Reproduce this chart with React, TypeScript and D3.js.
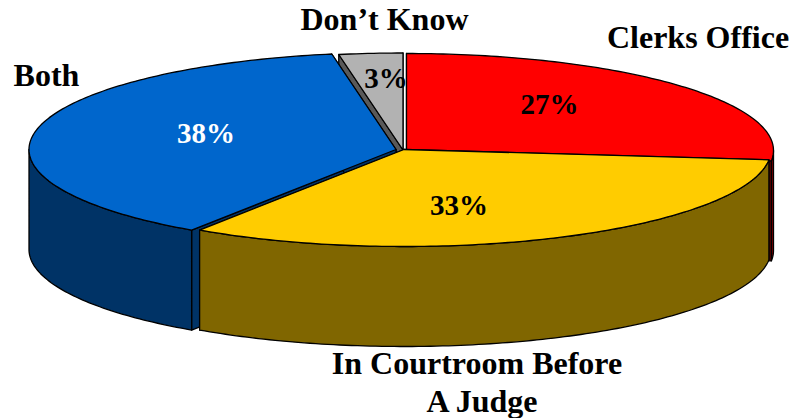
import React from "react";
import * as d3 from "d3";

const categories = ["Clerks Office", "In Courtroom Before A Judge", "Both", "Don't Know"];
const percentLabels = [27, 33, 38, 3];
const sliceShares = [26.7, 32.7, 37.8, 2.8];
const topColors = ["#ff0000", "#ffcc00", "#0066cc", "#b2b2b2"];
const sideColors = ["#7f0000", "#806600", "#003366", "#595959"];
const labelColors = ["#000", "#000", "#fff", "#000"];

const W = 797, H = 418;
const RX = 367, RY = 97, DEPTH = 100;
const centers: [number, number][] = [[406.5, 150.5], [404, 149.5], [396, 149.5], [403, 150]];
const percentPos: [number, number][] = [[549.5, 114], [459, 215], [206, 143], [386, 88]];

const pie = d3.pie<number>().sort(null).value((d) => d);
const arcs = pie(sliceShares);
const line = d3.line<[number, number]>();

function point(i: number, t: number, dy = 0): [number, number] {
  const x = d3.scaleLinear().domain([-1, 1]).range([centers[i][0] - RX, centers[i][0] + RX]);
  const y = d3.scaleLinear().domain([-1, 1]).range([centers[i][1] - RY + dy, centers[i][1] + RY + dy]);
  return [x(Math.sin(t)), y(-Math.cos(t))];
}
function sweep(i: number, a: number, b: number, dy = 0) {
  const n = Math.max(2, Math.ceil(Math.abs(b - a) * 60));
  return d3.range(n + 1).map((k) => point(i, a + ((b - a) * k) / n, dy));
}

const P = Math.PI;

export default function App() {
  const order = [3, 0, 2, 1];
  return (
    <svg width={W} height={H} style={{ position: "absolute", left: 0, top: 0, background: "#fff" }}
      fontFamily="'Liberation Serif', serif" fontWeight="bold">
      {order.map((i) => {
        const { startAngle: a, endAngle: b } = arcs[i];
        const [cx, cy] = centers[i];
        const fa = Math.max(a, P / 2), fb = Math.min(b, (3 * P) / 2);
        const outer = fb > fa ? [...sweep(i, fa, fb), ...sweep(i, fb, fa, DEPTH)] : null;
        const cut = (t: number) => {
          const p = point(i, t);
          return [[cx, cy], p, [p[0], p[1] + DEPTH], [cx, cy + DEPTH]] as [number, number][];
        };
        const top: [number, number][] = [[cx, cy], ...sweep(i, a, b)];
        return (
          <g key={categories[i]} stroke="#000" strokeWidth={1.3} strokeLinejoin="round">
            <path d={line(cut(a))! + "Z"} fill={sideColors[i]} />
            <path d={line(cut(b))! + "Z"} fill={sideColors[i]} />
            {outer && <path d={line(outer)! + "Z"} fill={sideColors[i]} />}
            <path d={line(top)! + "Z"} fill={topColors[i]} />
          </g>
        );
      })}
      {percentLabels.map((v, i) => (
        <text key={i} x={percentPos[i][0]} y={percentPos[i][1]} textAnchor="middle" fontSize={29} fill={labelColors[i]}>
          {v}%
        </text>
      ))}
      <g fontSize={32} fill="#000">
        <text x={698} y={48} textAnchor="middle">Clerks Office</text>
        <text x={384.5} y={30} textAnchor="middle">Don’t Know</text>
        <text x={46.5} y={86} textAnchor="middle">Both</text>
        <text x={477} y={374} textAnchor="middle">In Courtroom Before</text>
        <text x={482} y={412} textAnchor="middle">A Judge</text>
      </g>
    </svg>
  );
}
